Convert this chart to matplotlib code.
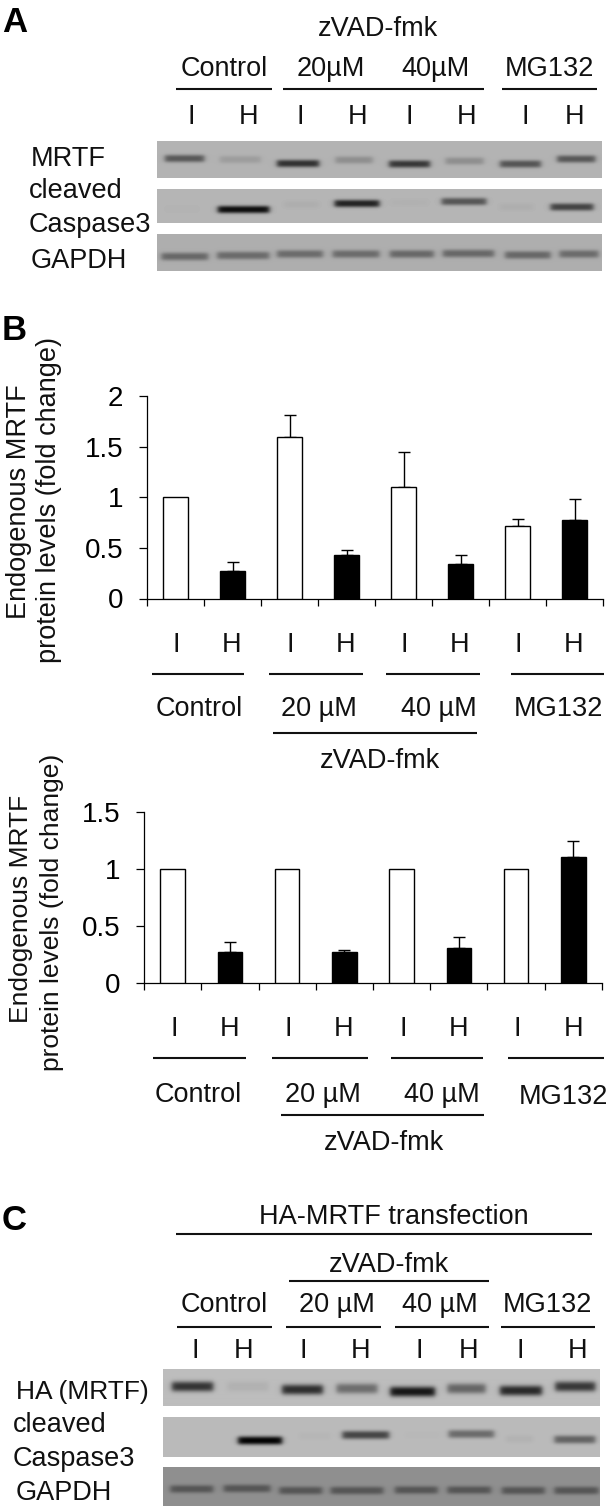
import numpy as np
import matplotlib
matplotlib.use("Agg")
import matplotlib.pyplot as plt

W, H = 609, 1509
plt.rcParams['font.family'] = ['Liberation Sans', 'DejaVu Sans']
FS = 19.5

# ---- data ----
groups = ["Control", "20 µM", "40 µM", "MG132"]
lane_labels = ["I", "H"] * 4
top_values = [1.0, 0.27, 1.6, 0.43, 1.1, 0.34, 0.72, 0.78]
top_err_tops = [1.0, 0.36, 1.81, 0.48, 1.45, 0.43, 0.79, 0.98]
bottom_values = [1.0, 0.27, 1.0, 0.27, 1.0, 0.30, 1.0, 1.10]
bottom_err_tops = [1.0, 0.36, 1.0, 0.29, 1.0, 0.40, 1.0, 1.24]
bar_colors = ["white", "black"] * 4

# ---- band strengths of the blots ----
a_mrtf = [0.50, 0.12, 0.72, 0.20, 0.68, 0.20, 0.52, 0.50]
a_casp = [0.015, 0.92, 0.04, 0.80, 0.025, 0.52, 0.04, 0.62]
a_gapdh = [0.40, 0.38, 0.38, 0.38, 0.40, 0.40, 0.40, 0.38]
c_ha = [0.72, 0.06, 0.75, 0.42, 0.88, 0.46, 0.78, 0.70]
c_casp = [0.0, 0.98, 0.025, 0.62, 0.015, 0.42, 0.04, 0.46]
c_gapdh = [0.40, 0.40, 0.40, 0.40, 0.40, 0.40, 0.40, 0.40]

fig = plt.figure(figsize=(W / 100, H / 100), dpi=100, facecolor="white")


def px_axes(l, t, r, b, **kw):
    return fig.add_axes([l / W, 1 - b / H, (r - l) / W, (b - t) / H], **kw)


def blot(box, bg, strengths, lanes, ycs, sigma):
    l, t, r, b = box
    ax = px_axes(l, t, r, b)
    xs = np.arange(l, r) + 0.5
    ys = np.arange(t, b) + 0.5
    X, Y = np.meshgrid(xs, ys)
    img = np.full(X.shape, float(bg))
    for s, (x0, x1), yc in zip(strengths, lanes, ycs):
        px = 0.5 * (np.tanh((X - x0) / 3.0) - np.tanh((X - x1) / 3.0))
        py = np.exp(-(np.abs(Y - yc) / sigma) ** 2.6)
        img -= s * bg * px * py
    ax.imshow(img, cmap="gray", vmin=0, vmax=1, aspect="auto", interpolation="bilinear")
    ax.axis("off")


def zl(pairs):
    return [(a / 2.57, b / 2.57) for a, b in pairs]


# Panel A blots
blot((157, 141, 602, 178), 0.70, a_mrtf,
     zl([(424, 525), (565, 670), (712, 820), (862, 958), (1000, 1105), (1145, 1243), (1285, 1390), (1432, 1530)]),
     [158.5, 159.5, 163.5, 160, 164, 161, 164, 159], 3.8)
blot((157, 189, 602, 223), 0.71, a_casp,
     zl([(425, 510), (560, 692), (730, 820), (860, 975), (1005, 1100), (1135, 1250), (1285, 1370), (1415, 1525)]),
     [209, 209.5, 204.5, 203.5, 202.5, 201.5, 207, 207], 3.8)
blot((157, 234, 602, 271), 0.68, a_gapdh,
     zl([(415, 535), (558, 692), (712, 830), (855, 975), (1002, 1115), (1138, 1270), (1298, 1415), (1438, 1538)]),
     [256.5, 255.5, 254, 254, 254, 253.5, 255, 254], 4.0)

# Panel C blots
blot((163, 1369, 600, 1406), 0.74, c_ha,
     zl([(442, 548), (585, 690), (725, 830), (865, 970), (1003, 1118), (1150, 1248), (1285, 1393), (1427, 1530)]),
     [1387, 1387, 1390, 1389, 1392, 1389, 1391, 1387], 5.0)
blot((163, 1417, 600, 1457), 0.73, c_casp,
     zl([(470, 530), (612, 725), (768, 850), (880, 1000), (1040, 1130), (1153, 1270), (1300, 1370), (1425, 1530)]),
     [1437, 1440.5, 1436, 1435, 1435, 1434, 1439, 1439.5], 4.2)
blot((163, 1467, 600, 1506), 0.56, c_gapdh,
     zl([(438, 548), (575, 695), (718, 828), (850, 985), (1015, 1125), (1150, 1262), (1290, 1400), (1425, 1538)]),
     [1489, 1488.5, 1490.5, 1490.5, 1490, 1490, 1490.5, 1490.5], 4.0)


def chart(box, values, err_tops, ymax, yticks, yticklabels):
    ax = px_axes(*box)
    x = np.arange(len(values)) + 0.5
    err = np.array(err_tops) - np.array(values)
    ax.bar(x, values, width=0.43, color=bar_colors, edgecolor="black", linewidth=1.0, zorder=3)
    for xi, v, e in zip(x, values, err):
        if e > 0:
            ax.errorbar(xi, v, yerr=[[0], [e]], fmt="none", ecolor="black",
                        elinewidth=1.0, capsize=4, capthick=1.0, zorder=2)
    ax.set_xlim(0, len(values))
    ax.set_ylim(0, ymax)
    ax.set_xticks(np.arange(len(values) + 1))
    ax.set_xticklabels([])
    ax.set_yticks(yticks)
    ax.set_yticklabels(yticklabels, fontsize=FS + 0.5)
    ax.tick_params(axis="x", length=5, width=0.9, direction="out")
    ax.tick_params(axis="y", length=6, width=0.9, pad=11)
    for s in ("top", "right"):
        ax.spines[s].set_visible(False)
    for s in ("left", "bottom"):
        ax.spines[s].set_linewidth(0.9)
    ax.patch.set_alpha(0)
    return ax


chart((147, 396, 603, 598.5), top_values, top_err_tops, 2, [0, 0.5, 1, 1.5, 2], ["0", "0.5", "1", "1.5", "2"])
chart((144, 811.7, 602, 982.7), bottom_values, bottom_err_tops, 1.5, [0, 0.5, 1, 1.5], ["0", "0.5", "1", "1.5"])

# ---- overlay in image pixels for annotations ----
ov = fig.add_axes([0, 0, 1, 1], zorder=10)
ov.set_xlim(0, W)
ov.set_ylim(H, 0)
ov.axis("off")

DY = 1.5


def T(x, y, s, ha="center", fs=FS, **kw):
    ov.text(x, y + DY, s, ha=ha, va="center", fontsize=fs, color="#111111", **kw)


def L(x0, x1, y, lw=1.5):
    ov.plot([x0, x1], [y, y], color="#111111", lw=lw, solid_capstyle="butt")


def lanes(xs, y):
    for x, s in zip(xs, lane_labels):
        T(x, y, s)


# Panel letters
for y, s in [(23, "A"), (331, "B"), (1221, "C")]:
    ov.text(2, y, s, ha="left", va="center", fontsize=25, fontweight="bold", color="black")

# Panel A annotations
T(378, 28, "zVAD-fmk")
for x, s in zip([224, 331, 435, 549], ["Control", "20µM", "40µM", "MG132"]):
    T(x, 68, s)
for a, b in [(176, 272), (283, 484), (502, 597)]:
    L(a, b, 89)
lanes([191, 249, 300, 358, 409, 467, 525, 575], 116)
T(31, 158, "MRTF", ha="left")
T(29, 190, "cleaved", ha="left")
T(29, 223, "Caspase3", ha="left")
T(31, 260, "GAPDH", ha="left")

# Panel B, upper chart annotations
ov.text(19, 502, "Endogenous MRTF", rotation=90, ha="center", va="center", fontsize=19.5, color="#111111")
ov.text(49, 500, "protein levels (fold change)", rotation=90, ha="center", va="center", fontsize=19.5, color="#111111")
lanes([176, 232, 290, 346, 404, 460, 518, 574], 644)
for a, b in [(152, 244), (269, 363), (386, 480), (511, 604)]:
    L(a, b, 674)
for x, s in zip([199, 319, 439, 558], groups):
    T(x, 707, s)
L(273, 477, 733)
T(380, 759, "zVAD-fmk")

# Panel B, lower chart annotations
ov.text(21, 909, "Endogenous MRTF", rotation=90, ha="center", va="center", fontsize=19, color="#111111")
ov.text(52, 912, "protein levels (fold change)", rotation=90, ha="center", va="center", fontsize=19, color="#111111")
lanes([174, 230, 288, 344, 403, 459, 517, 574], 1028)
for a, b in [(153, 246), (272, 368), (391, 483), (508, 604)]:
    L(a, b, 1058)
for x, y, s in zip([198, 323, 442, 563], [1093, 1093, 1093, 1096], groups):
    T(x, y, s)
L(281, 484, 1115)
T(384, 1142, "zVAD-fmk")

# Panel C annotations
T(394, 1216, "HA-MRTF transfection")
L(176, 592, 1234)
T(389, 1263, "zVAD-fmk")
L(289, 489, 1281)
for x, s in zip([224, 337, 440, 547], groups):
    T(x, 1303, s)
for a, b in [(177, 272), (286, 381), (395, 489), (501, 595)]:
    L(a, b, 1327)
lanes([195, 244, 303, 361, 419, 469, 520, 578], 1349)
T(16, 1390, "HA (MRTF)", ha="left", fs=19)
T(13, 1424, "cleaved", ha="left")
T(13, 1457, "Caspase3", ha="left")
T(16, 1491, "GAPDH", ha="left")

fig.savefig("out.png", dpi=100, facecolor="white")
